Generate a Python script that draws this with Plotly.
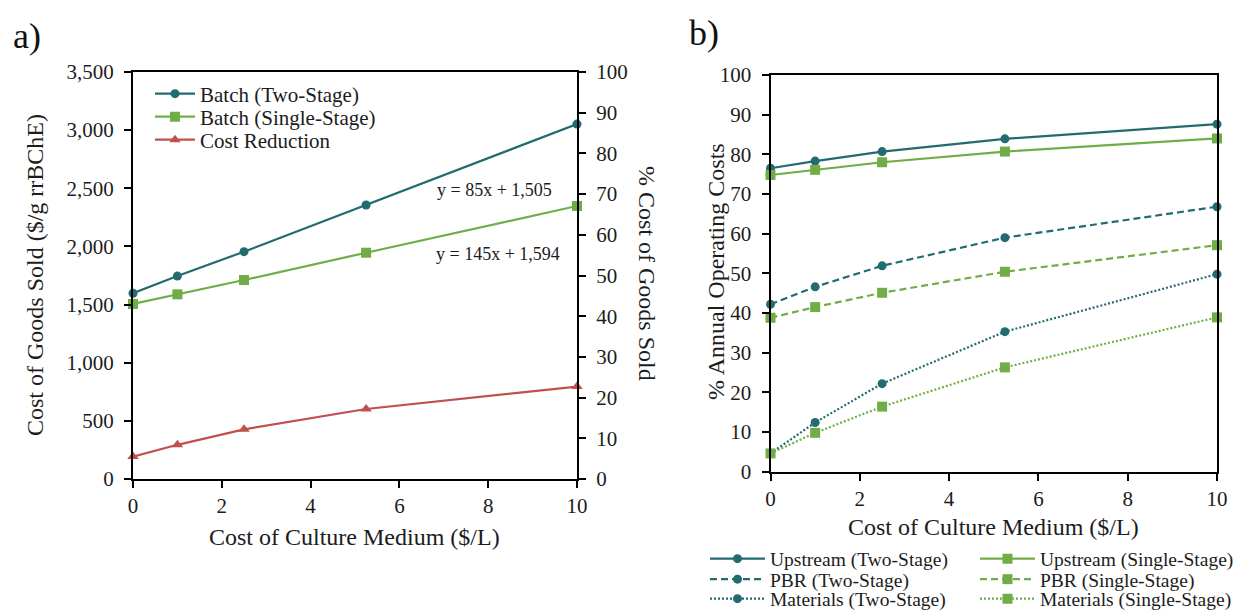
import plotly.graph_objects as go

W, H = 1235, 610

# ---------------- data ----------------
medium_cost = [0, 1, 2.5, 5.25, 10]

# panel a)
batch_two_stage = [1597, 1745, 1955, 2356, 3052]
batch_single_stage = [1505, 1588, 1711, 1946, 2348]
cost_reduction_pct = [5.5, 8.4, 12.2, 17.2, 22.7]

# panel b)
upstream_two = [76.5, 78.3, 80.7, 83.9, 87.6]
upstream_single = [74.8, 76.1, 78.0, 80.7, 84.0]
pbr_two = [42.2, 46.6, 51.9, 59.0, 66.8]
pbr_single = [38.8, 41.5, 45.1, 50.4, 57.1]
materials_two = [4.6, 12.4, 22.2, 35.3, 49.8]
materials_single = [4.6, 9.8, 16.4, 26.3, 38.9]

TEAL = "#226B6F"
GREEN = "#70AD47"
RED = "#C0504D"
FONT = "Liberation Serif"
TXT = "#1c1c1c"


def px(x):
    return x / W


def py(y):
    return 1 - y / H


fig = go.Figure()

common = dict(mode="lines+markers", cliponaxis=False)

# ---- panel a traces ----
fig.add_trace(go.Scatter(x=medium_cost, y=batch_two_stage, name="Batch (Two-Stage)",
                         line=dict(color=TEAL, width=2.2), marker=dict(symbol="circle", size=9, color=TEAL),
                         xaxis="x", yaxis="y", legend="legend", **common))
fig.add_trace(go.Scatter(x=medium_cost, y=batch_single_stage, name="Batch (Single-Stage)",
                         line=dict(color=GREEN, width=2.2), marker=dict(symbol="square", size=10, color=GREEN),
                         xaxis="x", yaxis="y", legend="legend2", **common))
fig.add_trace(go.Scatter(x=medium_cost, y=cost_reduction_pct, name="Cost Reduction",
                         line=dict(color=RED, width=2.2), marker=dict(symbol="triangle-up", size=10, color=RED),
                         xaxis="x", yaxis="y2", legend="legend3", **common))

# ---- panel b traces ----
b_series = [
    ("Upstream (Two-Stage)", upstream_two, TEAL, "circle", "solid", "legend4"),
    ("Upstream (Single-Stage)", upstream_single, GREEN, "square", "solid", "legend4"),
    ("PBR (Two-Stage)", pbr_two, TEAL, "circle", "7px,4px", "legend5"),
    ("PBR (Single-Stage)", pbr_single, GREEN, "square", "7px,4px", "legend5"),
    ("Materials (Two-Stage)", materials_two, TEAL, "circle", "2px,2px", "legend6"),
    ("Materials (Single-Stage)", materials_single, GREEN, "square", "2px,2px", "legend6"),
]
for name, vals, col, sym, dash, lg in b_series:
    fig.add_trace(go.Scatter(x=medium_cost, y=vals, name=name,
                             line=dict(color=col, width=2.2, dash=dash),
                             marker=dict(symbol=sym, size=10 if sym == "square" else 9, color=col),
                             xaxis="x2", yaxis="y3", legend=lg, **common))

axis_common = dict(showgrid=False, zeroline=False, showline=True, linecolor="black", linewidth=2,
                   ticks="outside", ticklen=7, tickwidth=2, tickcolor="black", automargin=False,
                   tickfont=dict(family=FONT, size=21, color=TXT))
xa = dict(ticklabelstandoff=0, **axis_common)
ya = dict(ticklabelstandoff=6, **axis_common)

fig.update_layout(
    width=W, height=H,
    margin=dict(l=0, r=0, t=0, b=0, autoexpand=False),
    showlegend=True,
    paper_bgcolor="white", plot_bgcolor="white",
    font=dict(family=FONT, color=TXT),
    xaxis=dict(domain=[px(133), px(577)], range=[0, 10], dtick=2, anchor="y", mirror=True, **xa),
    yaxis=dict(domain=[py(479), py(72)], range=[0, 3500], dtick=500, tickformat=",", anchor="x", **ya),
    yaxis2=dict(range=[0, 100], dtick=10, overlaying="y", side="right", anchor="x", **ya),
    xaxis2=dict(domain=[px(770.5), px(1217)], range=[0, 10], dtick=2, anchor="y3", mirror=True, **xa),
    yaxis3=dict(domain=[py(471.7), py(75)], range=[0, 100], dtick=10, anchor="x2", mirror=True, **ya),
)

leg_font = dict(family=FONT, size=21, color=TXT)
for lname, yc in [("legend", 94), ("legend2", 117), ("legend3", 140)]:
    fig.update_layout({lname: dict(x=px(150), y=py(yc), xanchor="left", yanchor="middle",
                                   bgcolor="rgba(0,0,0,0)", font=leg_font, itemwidth=40,
                                   orientation="h")})
for lname, yc in [("legend4", 559), ("legend5", 579.5), ("legend6", 599)]:
    fig.update_layout({lname: dict(x=px(705), y=py(yc), xanchor="left", yanchor="middle",
                                   bgcolor="rgba(0,0,0,0)", font=dict(family=FONT, size=19.5, color=TXT),
                                   itemwidth=55, orientation="h", entrywidth=200, entrywidthmode="pixels")})

ann_font = dict(family=FONT, size=24, color=TXT)
annotations = [
    dict(text="a)", x=px(27), y=py(36), font=dict(family=FONT, size=36, color="#111")),
    dict(text="b)", x=px(704), y=py(33), font=dict(family=FONT, size=36, color="#111")),
    dict(text="Cost of Goods Sold ($/g rrBChE)", x=px(35), y=py(275), textangle=-90, font=ann_font),
    dict(text="% Cost of Goods Sold", x=px(647), y=py(273), textangle=90, font=ann_font),
    dict(text="Cost of Culture Medium ($/L)", x=px(354), y=py(537), font=ann_font),
    dict(text="% Annual Operating Costs", x=px(716), y=py(272), textangle=-90, font=ann_font),
    dict(text="Cost of Culture Medium ($/L)", x=px(993), y=py(527), font=ann_font),
    dict(text="y = 85x + 1,505", x=px(494), y=py(190), font=dict(family=FONT, size=18, color=TXT)),
    dict(text="y = 145x + 1,594", x=px(498), y=py(254), font=dict(family=FONT, size=18, color=TXT)),
]
for a in annotations:
    a.update(xref="paper", yref="paper", showarrow=False, xanchor="center", yanchor="middle")
fig.update_layout(annotations=annotations)

fig.write_html("out.html")
